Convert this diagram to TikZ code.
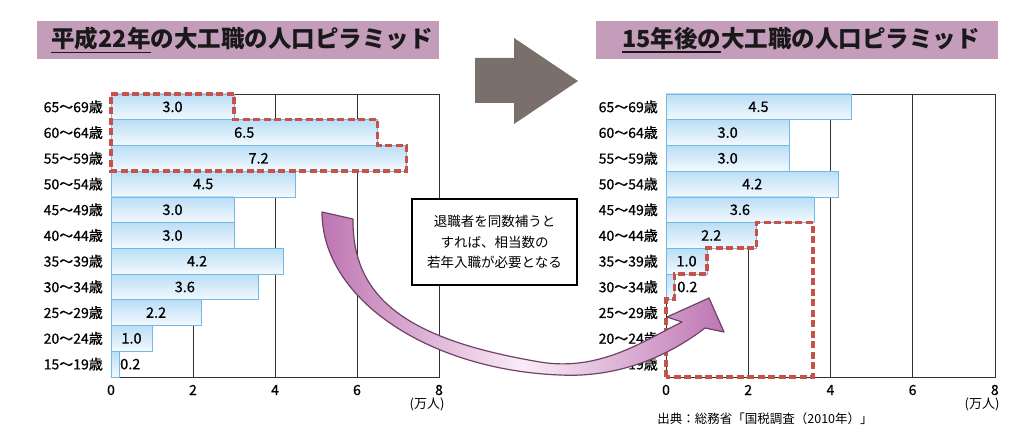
\documentclass[tikz,border=0pt]{standalone}
\usepackage{fontspec}
\setmainfont{Noto Sans CJK JP}
\newfontfamily\medfont{Noto Sans CJK JP}[FakeBold=0.7]
\definecolor{titlebg}{RGB}{196,157,186}
\definecolor{titletxt}{RGB}{25,25,25}
\definecolor{gridgray}{RGB}{50,50,50}
\definecolor{barTop}{RGB}{186,222,246}
\definecolor{barBot}{RGB}{243,249,254}
\definecolor{barborder}{RGB}{115,185,228}
\definecolor{dashred}{RGB}{201,82,72}
\definecolor{bigarrow}{RGB}{122,111,106}
\definecolor{arrowA}{RGB}{190,118,178}
\definecolor{arrowMid}{RGB}{250,236,247}
\definecolor{arrowedge}{RGB}{112,66,104}
\newcommand\ulpart[1]{\setbox0\hbox{#1}\rlap{\color{titletxt}\rule[-5.5pt]{\wd0}{1.4pt}}\box0}
\begin{document}
\begin{tikzpicture}[x=1pt,y=-1pt,
  rowlab/.style={anchor=east, font=\medfont\fontsize{14}{14}\selectfont, inner sep=0pt},
  vallab/.style={font=\medfont\fontsize{14.5}{14.5}\selectfont, inner sep=0pt},
  ticklab/.style={font=\medfont\fontsize{14}{14}\selectfont, inner sep=0pt},
  gridline/.style={draw=gridgray, line width=0.9pt},
  barstyle/.style={draw=barborder, line width=0.8pt, top color=barTop, bottom color=barBot},
  dashbox/.style={draw=dashred, line width=3.4pt, dash pattern=on 7pt off 3.5pt},
  titlebox/.style={fill=titlebg, minimum width=402pt, minimum height=38pt, inner sep=0pt, text=titletxt, font=\bfseries\fontsize{23.5}{23.5}\selectfont},
  notebox/.style={draw=black, line width=1.8pt, fill=white, minimum width=165pt, minimum height=86pt, align=center, font=\fontsize{13.5}{20.5}\selectfont},
  smalltxt/.style={font=\fontsize{13}{13}\selectfont, inner sep=0pt}
]
\useasboundingbox (0,0) rectangle (1024,438);
\def\rh{25.727}

% ---------- titles ----------
\node[titlebox] (t1) at (238,40) {\hspace*{8pt}\ulpart{平成22年}の大工職の人口ピラミッド};
\node[titlebox] (t2) at (796.5,40) {\hspace*{9pt}\ulpart{15年後の}大工職の人口ピラミッド};

% ---------- big arrow ----------
\fill[bigarrow] (475,58) -- (514,58) -- (514,38) -- (578,81) -- (514,124) -- (514,103) -- (475,103) -- cycle;

% ---------- left chart ----------
\draw[gridline] (111,94) rectangle (439,377);
\foreach \k in {2,4,6} \draw[gridline] ({111+\k*41},94) -- ({111+\k*41},377);
\foreach \lab/\v/\c [count=\i from 0] in {65～69歳/3.0/1.5, 60～64歳/6.5/3.25, 55～59歳/7.2/3.6, 50～54歳/4.5/2.25, 45～49歳/3.0/1.5, 40～44歳/3.0/1.5, 35～39歳/4.2/2.1, 30～34歳/3.6/1.8, 25～29歳/2.2/1.1, 20～24歳/1.0/0.5, 15～19歳/0.2/0.47}{
  \draw[barstyle] (111,{94+\i*\rh}) rectangle ({111+\v*41},{94+(\i+1)*\rh});
  \node[vallab] (lv\i) at ({111+\c*41},{94+(\i+0.5)*\rh}) {\v};
  \node[rowlab] (ll\i) at (103,{94+(\i+0.5)*\rh}) {\lab};
}
\foreach \k in {0,2,4,6,8} \node[ticklab] (lt\k) at ({111+\k*41},390) {\k};
\node[smalltxt] (lu) at (427,404) {(万人)};
\draw[dashbox] (111,94) -- (234,94) -- (234,119.7) -- (377.5,119.7) -- (377.5,145.5) -- (406.2,145.5) -- (406.2,171.2) -- (111,171.2) -- cycle;

% ---------- right chart ----------
\def\ux{41.1}
\draw[gridline] (666,94) rectangle (995,377);
\foreach \k in {2,4,6} \draw[gridline] ({666+\k*\ux},94) -- ({666+\k*\ux},377);
\foreach \lab/\v/\c [count=\i from 0] in {65～69歳/4.5/2.25, 60～64歳/3.0/1.5, 55～59歳/3.0/1.5, 50～54歳/4.2/2.1, 45～49歳/3.6/1.8, 40～44歳/2.2/1.1, 35～39歳/1.0/0.5, 30～34歳/0.2/0.52}{
  \draw[barstyle] (666,{94+\i*\rh}) rectangle ({666+\v*\ux},{94+(\i+1)*\rh});
  \node[vallab] (rv\i) at ({666+\c*\ux},{94+(\i+0.5)*\rh}) {\v};
  \node[rowlab] (rl\i) at (658,{94+(\i+0.5)*\rh}) {\lab};
}
\foreach \lab [count=\i from 8] in {25～29歳, 20～24歳, 15～19歳}
  \node[rowlab] (rl\i) at (658,{94+(\i+0.5)*\rh}) {\lab};
\foreach \k in {0,2,4,6,8} \node[ticklab] (rt\k) at ({666+\k*\ux},390) {\k};
\node[smalltxt] (ru) at (982,404) {(万人)};
\node[smalltxt, font=\fontsize{12.5}{12.5}\selectfont] (src) at (765,419) {出典：総務省「国税調査（2010年）」};
\draw[dashbox] (666,377) -- (666,299) -- (674.2,299) -- (674.2,273.8) -- (707.1,273.8) -- (707.1,248.1) -- (756.4,248.1) -- (756.4,222.6) -- (813,222.6) -- (813,377) -- cycle;

% ---------- note ----------
\node[notebox] (note) at (494.5,242) {退職者を同数補うと\\すれば、相当数の\\若年入職が必要となる};

% ---------- curved arrow ----------
\draw[draw=arrowedge, line width=1.2pt, line join=round, left color=arrowA, right color=arrowA, middle color=arrowMid]
  (322,212) -- (353,219) .. controls (352,300) and (410,340) .. (540,362)
  .. controls (600,372) and (645,340) .. (682,322) -- (667,317) -- (709,298) -- (724,332) -- (705,328)
  .. controls (670,355) and (620,378) .. (560,375) .. controls (430,370) and (322,300) .. (322,212) -- cycle;
\end{tikzpicture}
\end{document}
